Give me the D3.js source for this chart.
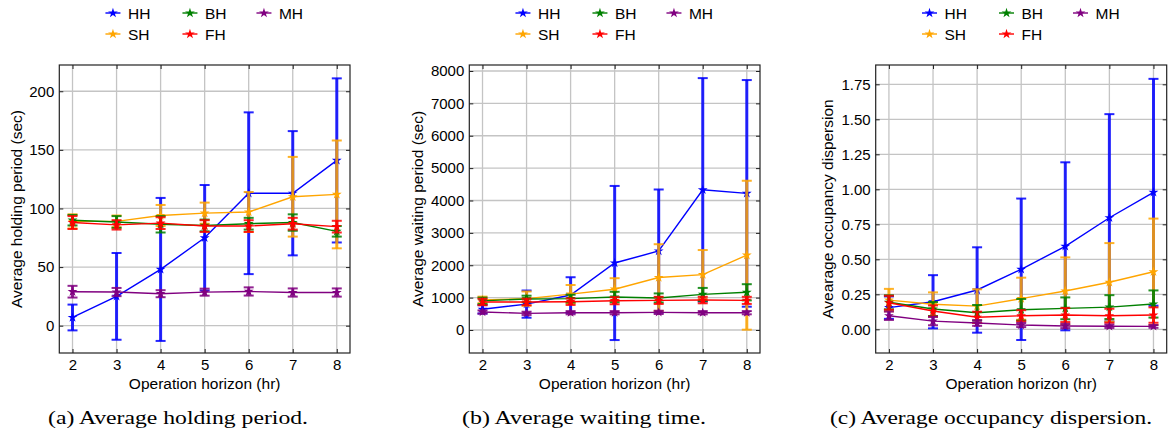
<!DOCTYPE html>
<html>
<head>
<meta charset="utf-8">
<script src="https://cdn.jsdelivr.net/npm/d3@7"></script>
<style>
  body { margin: 0; background: #fff; }
  svg { display: block; }
  text { font-family: "Liberation Sans", Arial, sans-serif; fill: #000; }
  .caption { font-family: "Liberation Serif", "DejaVu Serif", serif; }
</style>
</head>
<body>
<svg width="1169" height="433"></svg>
<script>
var hours = [2, 3, 4, 5, 6, 7, 8];
var seriesNames = ["HH", "SH", "BH", "FH", "MH"];

// (a) average holding period (sec)
var holdHH = [7, 25, 48, 75, 113, 113, 141];
var holdHHErr = [11, 37, 61, 45, 69, 53, 70];
var holdSH = [89, 89, 94, 96, 97, 110, 112];
var holdSHErr = [6, 5, 9, 9, 17, 34, 46];
var holdBH = [90, 88.5, 86.5, 85.5, 87, 88, 80.5];
var holdBHErr = [4.5, 5, 7, 5, 5, 7, 4.5];
var holdFH = [88, 86, 87.5, 85, 85, 87, 84.5];
var holdFHErr = [5.5, 4, 5, 5, 5, 5, 5];
var holdMH = [29, 28.7, 27.3, 28.6, 29.2, 28.3, 28.3];
var holdMHErr = [5, 3.5, 3, 3, 3.5, 3.5, 3.5];

// (b) average waiting period (sec)
var waitHH = [640, 800, 1080, 2070, 2440, 4330, 4220];
var waitHHErr = [130, 420, 550, 2380, 1900, 3450, 3500];
var waitSH = [930, 970, 1110, 1260, 1620, 1710, 2310];
var waitSHErr = [100, 220, 280, 340, 1030, 760, 2300];
var waitBH = [900, 960, 970, 1020, 990, 1100, 1165];
var waitBHErr = [100, 100, 120, 160, 140, 200, 250];
var waitFH = [865, 865, 875, 905, 915, 925, 915];
var waitFHErr = [100, 100, 100, 110, 110, 100, 110];
var waitMH = [555, 515, 535, 535, 545, 535, 535];
var waitMHErr = [50, 50, 50, 50, 50, 50, 50];

// (c) average occupancy dispersion
var dispHH = [0.155, 0.197, 0.281, 0.429, 0.593, 0.797, 0.979];
var dispHHErr = [0.08, 0.19, 0.305, 0.505, 0.6, 0.74, 0.81];
var dispSH = [0.209, 0.179, 0.166, 0.219, 0.274, 0.336, 0.411];
var dispSHErr = [0.08, 0.085, 0.12, 0.15, 0.24, 0.28, 0.38];
var dispBH = [0.193, 0.145, 0.119, 0.14, 0.15, 0.159, 0.181];
var dispBHErr = [0.05, 0.05, 0.055, 0.077, 0.078, 0.085, 0.097];
var dispFH = [0.19, 0.131, 0.086, 0.097, 0.102, 0.097, 0.102];
var dispFHErr = [0.05, 0.04, 0.04, 0.04, 0.05, 0.05, 0.055];
var dispMH = [0.097, 0.059, 0.045, 0.031, 0.024, 0.022, 0.021];
var dispMHErr = [0.03, 0.03, 0.02, 0.015, 0.015, 0.012, 0.01];

var holdTicks = [0, 50, 100, 150, 200];
var waitTicks = [0, 1000, 2000, 3000, 4000, 5000, 6000, 7000, 8000];
var dispTicks = [0, 0.25, 0.5, 0.75, 1, 1.25, 1.5, 1.75];

var colors = {HH: "blue", SH: "orange", BH: "green", FH: "red", MH: "purple"};

var svg = d3.select("svg");
var top_y = 65, bottom_y = 353;

var panels = [
    {left: 59.3, right: 350, domain: [-23.3, 222.4], ticks: holdTicks, fmt: d3.format("d"),
     ylabel: "Average holding period (sec)", labelX: 16.7,
     caption: "(a) Average holding period.", capX: 178, capW: 260,
     mean: [holdHH, holdSH, holdBH, holdFH, holdMH],
     err: [holdHHErr, holdSHErr, holdBHErr, holdFHErr, holdMHErr]},
    {left: 469.3, right: 760, domain: [-710, 8185], ticks: waitTicks, fmt: d3.format("d"),
     ylabel: "Average waiting period (sec)", labelX: 417,
     caption: "(b) Average waiting time.", capX: 584, capW: 244,
     mean: [waitHH, waitSH, waitBH, waitFH, waitMH],
     err: [waitHHErr, waitSHErr, waitBHErr, waitFHErr, waitMHErr]},
    {left: 875.7, right: 1166.7, domain: [-0.169, 1.888], ticks: dispTicks, fmt: d3.format(".2f"),
     ylabel: "Avearage occupancy dispersion", labelX: 827.5,
     caption: "(c) Average occupancy dispersion.", capX: 991, capW: 322,
     mean: [dispHH, dispSH, dispBH, dispFH, dispMH],
     err: [dispHHErr, dispSHErr, dispBHErr, dispFHErr, dispMHErr]}
];

var star = d3.symbol().type(d3.symbolStar).size(30);

function drawPanel(p) {
    var xScale = d3.scaleLinear().domain([1.7, 8.3]).range([p.left, p.right]);
    var yScale = d3.scaleLinear().domain(p.domain).range([bottom_y, top_y]);
    var g = svg.append("g");

    // grid
    g.selectAll(".gx").data(hours).enter().append("line")
        .attr("x1", function(d) { return xScale(d); }).attr("x2", function(d) { return xScale(d); })
        .attr("y1", top_y).attr("y2", bottom_y)
        .attr("stroke", "#c4c4c4").attr("stroke-width", 1.3);
    g.selectAll(".gy").data(p.ticks).enter().append("line")
        .attr("x1", p.left).attr("x2", p.right)
        .attr("y1", function(d) { return yScale(d); }).attr("y2", function(d) { return yScale(d); })
        .attr("stroke", "#c4c4c4").attr("stroke-width", 1.3);

    // series: error bars, caps, line, markers
    seriesNames.forEach(function(name, i) {
        var c = colors[name];
        var rows = hours.map(function(h, j) { return {x: h, y: p.mean[i][j], e: p.err[i][j]}; });
        var s = g.append("g");
        s.selectAll(".bar").data(rows).enter().append("line")
            .attr("x1", function(d) { return xScale(d.x); }).attr("x2", function(d) { return xScale(d.x); })
            .attr("y1", function(d) { return yScale(d.y - d.e); }).attr("y2", function(d) { return yScale(d.y + d.e); })
            .attr("stroke", c).attr("stroke-width", 3).attr("opacity", 0.85);
        [-1, 1].forEach(function(sign) {
            s.selectAll(".cap" + sign).data(rows).enter().append("line")
                .attr("x1", function(d) { return xScale(d.x) - 5; }).attr("x2", function(d) { return xScale(d.x) + 5; })
                .attr("y1", function(d) { return yScale(d.y + sign * d.e); })
                .attr("y2", function(d) { return yScale(d.y + sign * d.e); })
                .attr("stroke", c).attr("stroke-width", 2).attr("opacity", 0.85);
        });
        s.append("path").datum(rows)
            .attr("d", d3.line().x(function(d) { return xScale(d.x); }).y(function(d) { return yScale(d.y); }))
            .attr("fill", "none").attr("stroke", c).attr("stroke-width", 1.4);
        s.selectAll(".mk").data(rows).enter().append("path")
            .attr("d", star)
            .attr("transform", function(d) { return "translate(" + xScale(d.x) + "," + yScale(d.y) + ")"; })
            .attr("fill", c);
    });

    // frame
    g.append("rect").attr("x", p.left).attr("y", top_y)
        .attr("width", p.right - p.left).attr("height", bottom_y - top_y)
        .attr("fill", "none").attr("stroke", "#222").attr("stroke-width", 1.2);

    // inward ticks on all sides
    var xAxis = d3.axisBottom(xScale).tickValues(hours).tickFormat(d3.format("d"))
        .tickSizeInner(-4).tickSizeOuter(0).tickPadding(6);
    var yAxis = d3.axisLeft(yScale).tickValues(p.ticks).tickFormat(p.fmt)
        .tickSizeInner(-4).tickSizeOuter(0).tickPadding(5);
    g.append("g").attr("transform", "translate(0," + bottom_y + ")").call(xAxis);
    g.append("g").attr("transform", "translate(" + p.left + ",0)").call(yAxis);
    g.append("g").attr("transform", "translate(0," + top_y + ")")
        .call(d3.axisTop(xScale).tickValues(hours).tickSizeInner(-4).tickSizeOuter(0).tickFormat(""));
    g.append("g").attr("transform", "translate(" + p.right + ",0)")
        .call(d3.axisRight(yScale).tickValues(p.ticks).tickSizeInner(-4).tickSizeOuter(0).tickFormat(""));
    g.selectAll(".domain").remove();
    g.selectAll(".tick line").attr("stroke", "#222");
    g.selectAll(".tick text").style("font-family", "Liberation Sans, Arial, sans-serif").style("font-size", "15px").attr("fill", "#000");

    // axis labels
    g.append("text").attr("x", (p.left + p.right) / 2).attr("y", 389)
        .attr("text-anchor", "middle").style("font-size", "15.5px").text("Operation horizon (hr)");
    g.append("text")
        .attr("transform", "translate(" + (p.labelX + 5.5) + "," + ((top_y + bottom_y) / 2) + ") rotate(-90)")
        .attr("text-anchor", "middle").style("font-size", "15.5px").text(p.ylabel);

    // caption
    g.append("text").attr("class", "caption").attr("x", p.capX).attr("y", 424)
        .attr("text-anchor", "middle").style("font-size", "18px")
        .attr("textLength", p.capW).attr("lengthAdjust", "spacingAndGlyphs")
        .text(p.caption);

    // legend (3 columns, column-major)
    var cx = (p.left + p.right) / 2;
    var colOff = [-91.7, -14.7, 59.3];
    var rowY = [13, 34];
    seriesNames.forEach(function(name, i) {
        var mx = cx + colOff[Math.floor(i / 2)];
        var my = rowY[i % 2];
        g.append("line").attr("x1", mx - 7.5).attr("x2", mx + 7.5).attr("y1", my).attr("y2", my)
            .attr("stroke", colors[name]).attr("stroke-width", 1.4);
        g.append("path").attr("d", star).attr("transform", "translate(" + mx + "," + my + ")").attr("fill", colors[name]);
        g.append("text").attr("x", mx + 15).attr("y", my + 5.5).style("font-size", "15.5px").text(name);
    });
}

panels.forEach(drawPanel);
</script>
</body>
</html>
